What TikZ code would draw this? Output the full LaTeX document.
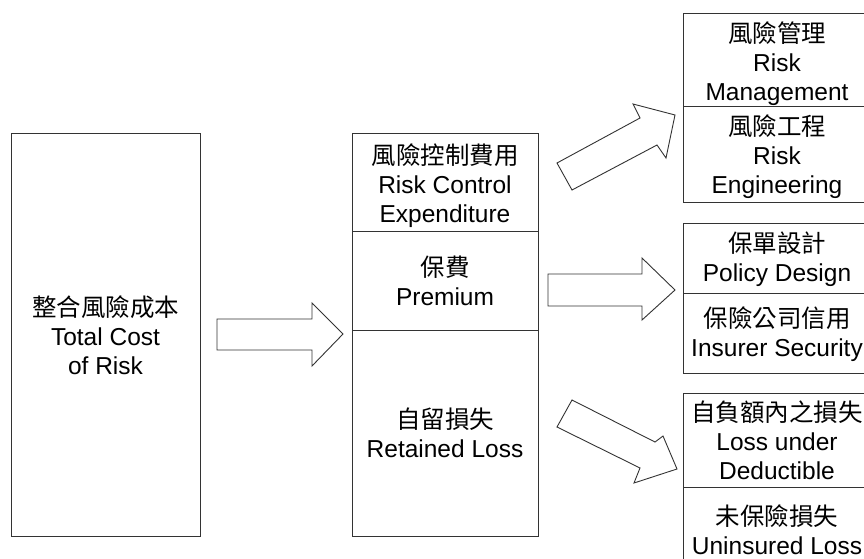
\documentclass[tikz,border=0pt]{standalone}
\usepackage{fontspec}
\setmainfont{Liberation Sans}
\newfontfamily\cjk{Noto Sans CJK TC}
\tikzset{
  cell/.style={draw=black!80, line width=0.9pt, rectangle, inner sep=0pt},
  celltext/.style={inner sep=0pt, align=center, font=\fontsize{24.5}{29}\selectfont},
  blockarrow/.style={draw=black!80, line width=0.9pt, fill=white, line join=miter}
}
\begin{document}
\begin{tikzpicture}[x=1pt,y=-1pt]
\useasboundingbox (0,0) rectangle (864,559);
% left box
\node[cell, minimum width=189pt, minimum height=403pt] (L) at (105.5,334.5) {};
\node[celltext] (Lt) at ([yshift=-1pt]L.center) {{\cjk 整合風險成本}\\Total Cost\\of Risk};
% middle column
\node[cell, minimum width=186pt, minimum height=98pt] (M1) at (445,182) {};
\node[celltext] (M1t) at ([yshift=-4pt]M1.center) {{\cjk 風險控制費用}\\Risk Control\\Expenditure};
\node[cell, minimum width=186pt, minimum height=99pt] (M2) at (445,280.5) {};
\node[celltext] (M2t) at ([yshift=0pt]M2.center) {{\cjk 保費}\\Premium};
\node[cell, minimum width=186pt, minimum height=206pt] (M3) at (445,433) {};
\node[celltext] (M3t) at ([yshift=0pt]M3.center) {{\cjk 自留損失}\\Retained Loss};
% right column
\node[cell, minimum width=188pt, minimum height=93pt] (R1a) at (777,59.5) {};
\node[celltext] (R1at) at ([yshift=-4pt]R1a.center) {{\cjk 風險管理}\\Risk\\Management};
\node[cell, minimum width=188pt, minimum height=96pt] (R1b) at (777,154) {};
\node[celltext] (R1bt) at ([yshift=-3pt]R1b.center) {{\cjk 風險工程}\\Risk\\Engineering};
\node[cell, minimum width=188pt, minimum height=70pt] (R2a) at (777,258) {};
\node[celltext] (R2at) at ([yshift=-1pt]R2a.center) {{\cjk 保單設計}\\Policy Design};
\node[cell, minimum width=188pt, minimum height=80pt] (R2b) at (777,333) {};
\node[celltext] (R2bt) at ([yshift=-1pt]R2b.center) {{\cjk 保險公司信用}\\Insurer Security};
\node[cell, minimum width=188pt, minimum height=94pt] (R3a) at (777,440) {};
\node[celltext] (R3at) at (R3a.center) {{\cjk 自負額內之損失}\\Loss under\\Deductible};
\node[cell, minimum width=188pt, minimum height=88pt] (R3b) at (777,531) {};
\node[celltext] (R3bt) at ([yshift=1pt]R3b.center) {{\cjk 未保險損失}\\Uninsured Loss};
% block arrows
\draw[blockarrow] (217,319) -- (312,319) -- (312,303) -- (343,334) -- (312,366) -- (312,350) -- (217,350) -- cycle;
\draw[blockarrow] (548,274) -- (642,274) -- (642,258) -- (675,290) -- (642,320) -- (642,306) -- (548,306) -- cycle;
\draw[blockarrow] (557,163) -- (640,118) -- (633,104) -- (675,115) -- (666,158) -- (657,145) -- (572,190) -- cycle;
\draw[blockarrow] (572,400) -- (655,442) -- (663,436) -- (677,469) -- (634,483) -- (640,468) -- (557,427) -- cycle;
\end{tikzpicture}
\end{document}
